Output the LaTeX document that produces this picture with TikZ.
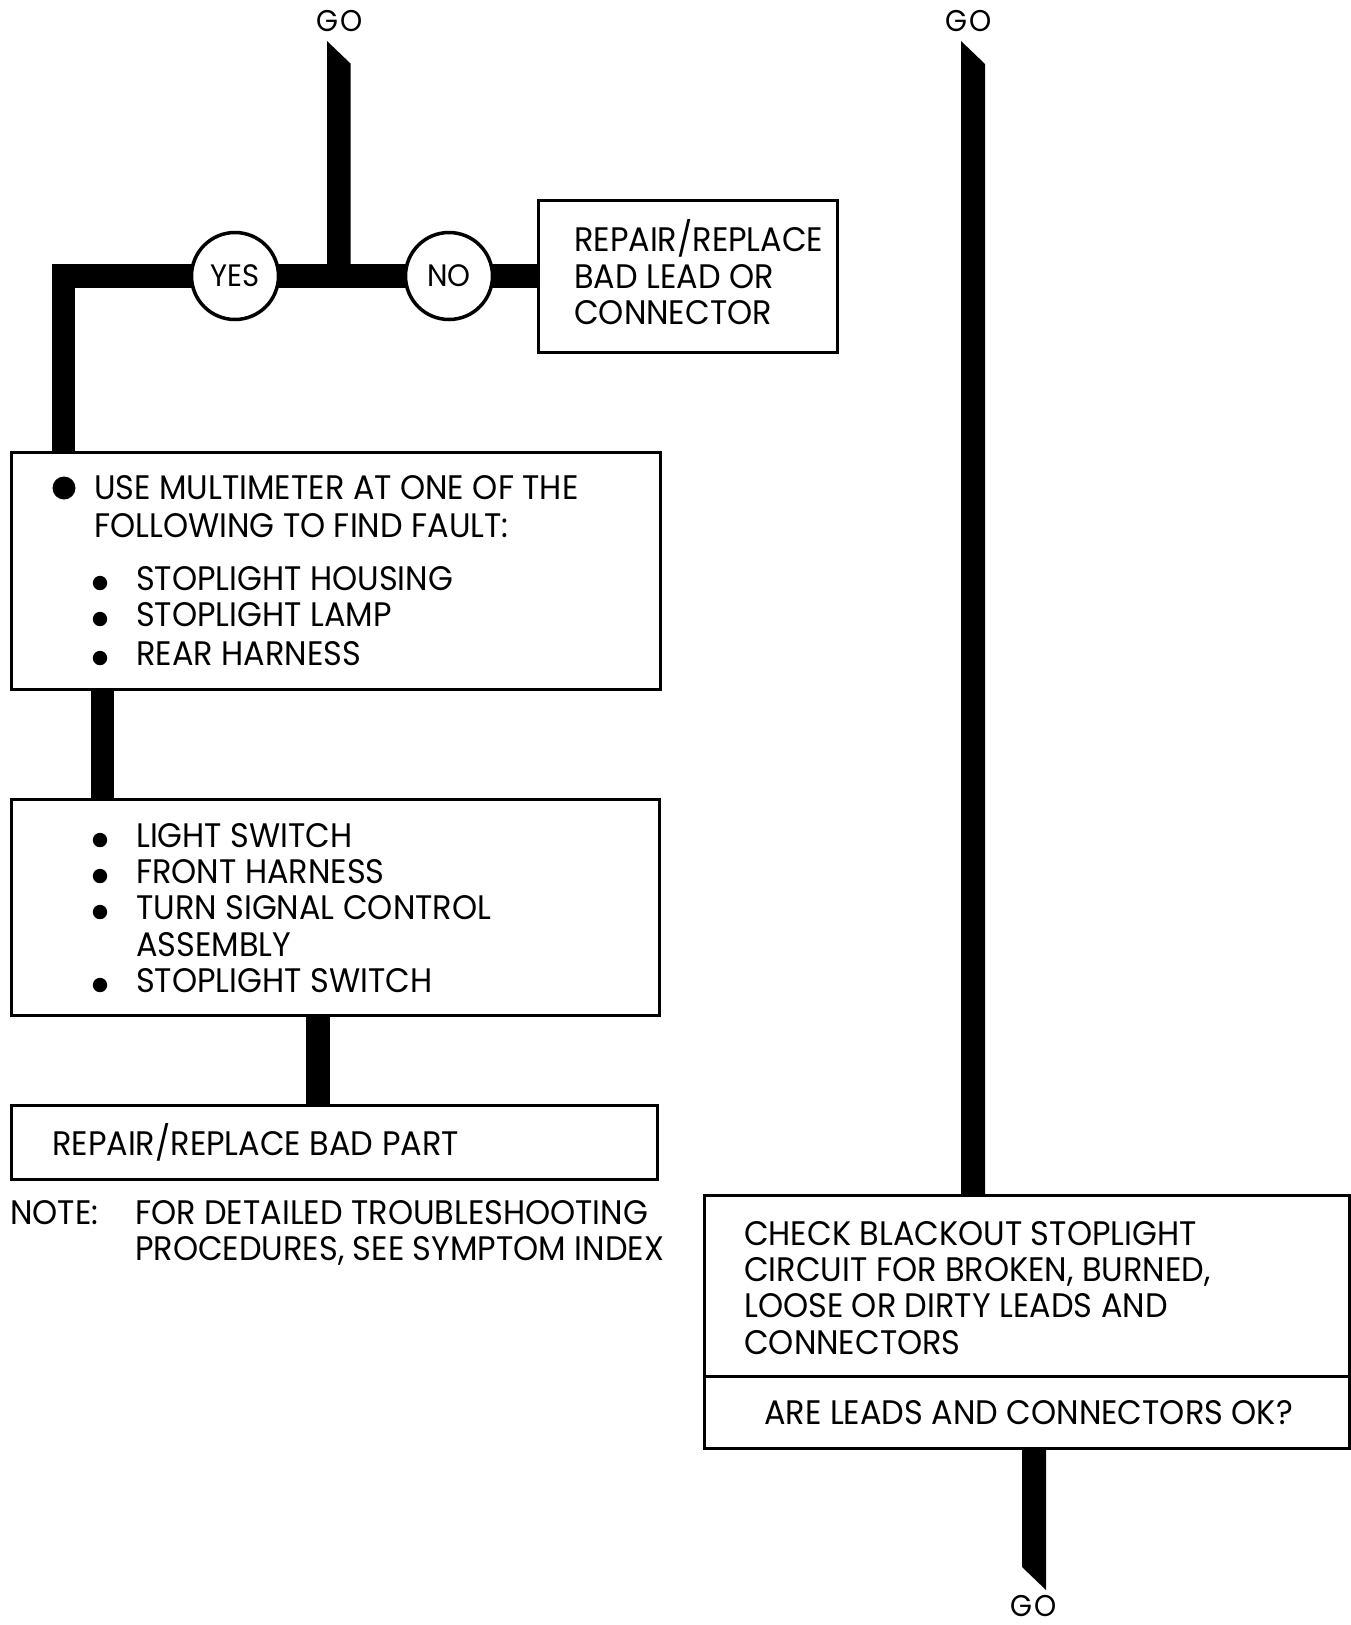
\documentclass[tikz,border=0pt]{standalone}
\usepackage{fontspec}
\setmainfont{Poppins}[FakeStretch=0.94]
\begin{document}
\begin{tikzpicture}[x=1pt,y=-1pt,
  bar/.style={line width=23.5pt},
  box/.style={draw, line width=3pt, fill=white, rectangle, inner sep=0pt},
  dec/.style={circle, draw, line width=3.5pt, fill=white, minimum size=87pt, inner sep=0pt, font=\fontsize{31}{31}\selectfont},
  txt/.style={anchor=base west, inner sep=0pt, font=\fontsize{34}{37}\selectfont},
  gotxt/.style={anchor=base, inner sep=0pt, font=\fontsize{30}{30}\selectfont}]
\useasboundingbox (0,0) rectangle (1351,1625);

% boxes
\node[box, minimum width=299pt, minimum height=152pt] (nobox) at (688,276) {};
\node[box, minimum width=649pt, minimum height=237pt] (b1) at (336,571) {};
\node[box, minimum width=648pt, minimum height=216pt] (b2) at (335.5,907.5) {};
\node[box, minimum width=646pt, minimum height=74pt] (b3) at (334.5,1142.5) {};
\node[box, minimum width=645pt, minimum height=180.5pt] (rtop) at (1027,1285.75) {};
\node[box, minimum width=645pt, minimum height=72.5pt] (rbot) at (1027,1412.25) {};

% GO labels
\node[gotxt] (go1) at (340,31) {G\kern2pt O};
\node[gotxt] (go2) at (969,31) {G\kern2pt O};
\node[gotxt] (go3) at (1034,1616) {G\kern2pt O};

% decision circles
\coordinate (yesc) at (235,276);
\coordinate (noc) at (449,276);
\coordinate (j1) at (338.75,276);

% connectors
\draw[bar, line join=miter] ([xshift=53.5pt]b1.north west) |- (nobox.west);
\fill (327,41) -- ++(23.5,22.5) -- ([xshift=11.75pt]j1) -- ([xshift=-11.75pt]j1) -- cycle;
\draw[bar] ([xshift=92.5pt]b1.south west) -- ([xshift=92.5pt]b2.north west);
\draw[bar] ([xshift=308pt]b2.south west) -- ([xshift=308pt]b3.north west);
\fill (961,41) -- ++(24,23) -- ([xshift=282pt]rtop.north west) -- ([xshift=258pt]rtop.north west) -- cycle;
\fill ([xshift=319pt]rbot.south west) -- ([xshift=343pt]rbot.south west) -- ++(0,140) -- ++(-24,-23) -- cycle;

\node[dec] (yes) at (yesc) {YES};
\node[dec] (no) at (noc) {NO};

% NO box text
\node[txt] (n1) at (574,251) {REPAIR/REPLACE};
\node[txt] (n2) at (574,288) {BAD LEAD OR};
\node[txt] (n3) at (574,324) {CONNECTOR};

% box 1
\fill (64,488) circle (11.5);
\node[txt] (a1) at (94,499) {USE MULTIMETER AT ONE OF THE};
\node[txt] (a2) at (94,537) {FOLLOWING TO FIND FAULT:};
\fill (100,583) circle (7.2);
\node[txt] (a3) at (136,590) {STOPLIGHT HOUSING};
\fill (100,619) circle (7.2);
\node[txt] (a4) at (136,626) {STOPLIGHT LAMP};
\fill (100,658) circle (7.2);
\node[txt] (a5) at (136,665) {REAR HARNESS};

% box 2
\fill (100,840) circle (7.2);
\node[txt] (c1) at (136,847) {LIGHT SWITCH};
\fill (100,876) circle (7.2);
\node[txt] (c2) at (136,883) {FRONT HARNESS};
\fill (100,912) circle (7.2);
\node[txt] (c3) at (136,919) {TURN SIGNAL CONTROL};
\node[txt] (c4) at (136,956) {ASSEMBLY};
\fill (100,985) circle (7.2);
\node[txt] (c5) at (136,992) {STOPLIGHT SWITCH};

% box 3
\node[txt] (d1) at (52,1155) {REPAIR/REPLACE BAD PART};

% note
\node[txt] (note) at (10,1224) {NOTE:};
\node[txt] (e1) at (135,1224) {FOR DETAILED TROUBLESHOOTING};
\node[txt] (e2) at (135,1260) {PROCEDURES, SEE SYMPTOM INDEX};

% right box
\node[txt] (r1) at (744,1245) {CHECK BLACKOUT STOPLIGHT};
\node[txt] (r2) at (744,1281) {CIRCUIT FOR BROKEN, BURNED,};
\node[txt] (r3) at (744,1317) {LOOSE OR DIRTY LEADS AND};
\node[txt] (r4) at (744,1354) {CONNECTORS};
\node[txt] (r5) at (764,1424) {ARE LEADS AND CONNECTORS OK?};
\end{tikzpicture}
\end{document}
